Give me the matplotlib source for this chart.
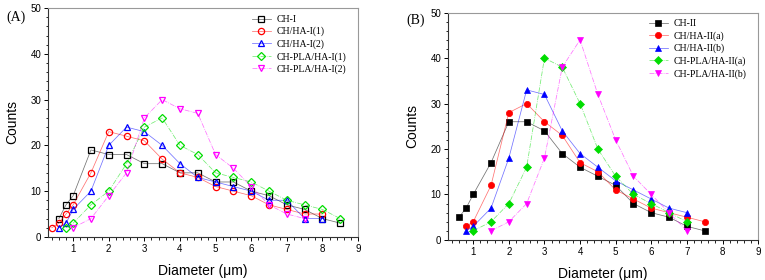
import numpy as np
import matplotlib
matplotlib.use("Agg")
import matplotlib.pyplot as plt
from matplotlib.ticker import MultipleLocator

# panel A
labels_a = ['CH-I', 'CH/HA-I(1)', 'CH/HA-I(2)', 'CH-PLA/HA-I(1)', 'CH-PLA/HA-I(2)']
x_a1 = [0.6, 0.8, 1.0, 1.5, 2, 2.5, 3, 3.5, 4, 4.5, 5, 5.5, 6, 6.5, 7, 7.5, 8, 8.5]
y_a1 = [4, 7, 9, 19, 18, 18, 16, 16, 14, 14, 12, 12, 10, 9, 7, 6, 4, 3]
x_a2 = [0.4, 0.6, 0.8, 1.0, 1.5, 2, 2.5, 3, 3.5, 4, 4.5, 5, 5.5, 6, 6.5, 7, 7.5, 8]
y_a2 = [2, 3, 5, 7, 14, 23, 22, 21, 17, 14, 13, 11, 10, 9, 7, 6, 5, 5]
x_a3 = [0.6, 0.8, 1.0, 1.5, 2, 2.5, 3, 3.5, 4, 4.5, 5, 5.5, 6, 6.5, 7, 7.5, 8]
y_a3 = [2, 3, 6, 10, 20, 24, 23, 20, 16, 13, 12, 11, 10, 8, 8, 4, 4]
x_a4 = [0.8, 1.0, 1.5, 2, 2.5, 3, 3.5, 4, 4.5, 5, 5.5, 6, 6.5, 7, 7.5, 8, 8.5]
y_a4 = [2, 3, 7, 10, 16, 24, 26, 20, 18, 14, 13, 12, 10, 8, 7, 6, 4]
x_a5 = [1.0, 1.5, 2, 2.5, 3, 3.5, 4, 4.5, 5, 5.5, 6, 6.5, 7, 7.5]
y_a5 = [2, 4, 9, 14, 26, 30, 28, 27, 18, 15, 11, 7, 5, 4]

# panel B
labels_b = ['CH-II', 'CH/HA-II(a)', 'CH/HA-II(b)', 'CH-PLA/HA-II(a)', 'CH-PLA/HA-II(b)']
x_b1 = [0.6, 0.8, 1.0, 1.5, 2, 2.5, 3, 3.5, 4, 4.5, 5, 5.5, 6, 6.5, 7, 7.5]
y_b1 = [5, 7, 10, 17, 26, 26, 24, 19, 16, 14, 12, 8, 6, 5, 3, 2]
x_b2 = [0.8, 1.0, 1.5, 2, 2.5, 3, 3.5, 4, 4.5, 5, 5.5, 6, 6.5, 7, 7.5]
y_b2 = [3, 4, 12, 28, 30, 26, 23, 17, 15, 11, 9, 7, 6, 5, 4]
x_b3 = [0.8, 1.0, 1.5, 2, 2.5, 3, 3.5, 4, 4.5, 5, 5.5, 6, 6.5, 7]
y_b3 = [2, 3, 7, 18, 33, 32, 24, 19, 16, 13, 11, 9, 7, 6]
x_b4 = [1.0, 1.5, 2, 2.5, 3, 3.5, 4, 4.5, 5, 5.5, 6, 6.5, 7]
y_b4 = [2, 4, 8, 16, 40, 38, 30, 20, 14, 10, 8, 6, 4]
x_b5 = [1.5, 2, 2.5, 3, 3.5, 4, 4.5, 5, 5.5, 6, 6.5, 7]
y_b5 = [2, 4, 8, 18, 38, 44, 32, 22, 14, 10, 6, 2]

colors = ['black', 'red', 'blue', '#00dd00', '#ff00ff']
markers = ['s', 'o', '^', 'D', 'v']
styles = ['-', '-', '-', '-.', '-.']
msizes = [4.5, 4.5, 5, 4.2, 5]

sans = 'Liberation Sans'
serif = 'Liberation Serif'

fig = plt.figure(figsize=(7.65, 2.8), dpi=100)
axA = fig.add_axes([0.063, 0.154, 0.405, 0.817])
axB = fig.add_axes([0.586, 0.143, 0.405, 0.812])

data_a = [(x_a1, y_a1), (x_a2, y_a2), (x_a3, y_a3), (x_a4, y_a4), (x_a5, y_a5)]
data_b = [(x_b1, y_b1), (x_b2, y_b2), (x_b3, y_b3), (x_b4, y_b4), (x_b5, y_b5)]

for i, (x, y) in enumerate(data_a):
    line, = axA.plot(x, y, color=colors[i], ls=styles[i], lw=0.55,
                     marker=markers[i], ms=msizes[i], mfc='none', mew=0.9,
                     label=labels_a[i])
    line.set_color(colors[i])

for i, (x, y) in enumerate(data_b):
    axB.plot(x, y, color=colors[i], ls=styles[i], lw=0.55,
             marker=markers[i], ms=msizes[i], mew=0.5,
             label=labels_b[i])

for ax in [axA, axB]:
    for ln in ax.get_lines():
        c = ln.get_color()
        ln.set_markeredgecolor(c)
        if ax is axB:
            ln.set_markerfacecolor(c)
        ln.set_color(matplotlib.colors.to_rgba(c, 0.55))
    ax.set_xlim(0.3, 9)
    ax.set_ylim(0, 50)
    ax.xaxis.set_minor_locator(MultipleLocator(0.2))
    ax.yaxis.set_minor_locator(MultipleLocator(2))
    ax.tick_params(which='major', length=3, width=0.7, pad=2)
    ax.tick_params(which='minor', length=1.8, width=0.6)
    ax.set_xticks(range(1, 10))
    ax.set_xticklabels([str(v) for v in range(1, 10)], fontfamily=sans, fontsize=7)
    ax.set_yticks(range(0, 51, 10))
    ax.set_yticklabels([str(v) for v in range(0, 51, 10)], fontfamily=sans, fontsize=7)
    ax.spines['left'].set_color('#333333')
    ax.spines['bottom'].set_color('#333333')
    ax.spines['top'].set_color('#999999')
    ax.spines['right'].set_color('#999999')
    for s in ax.spines.values():
        s.set_linewidth(0.8)
    ax.set_xlabel('Diameter (\u03bcm)', fontfamily=sans, fontsize=10, labelpad=7)
    ax.set_ylabel('Counts', fontfamily=sans, fontsize=10, labelpad=8)
    ax.legend(loc='upper right', frameon=False, prop={'family': serif, 'size': 7},
              handlelength=2.0, labelspacing=0.3, handletextpad=0.6,
              borderaxespad=0.3, bbox_to_anchor=(0.985, 1.0))

fig.text(0.008, 0.925, '(A)', fontfamily=serif, fontsize=10)
fig.text(0.531, 0.915, '(B)', fontfamily=serif, fontsize=10)

fig.savefig('out.png', dpi=100)
